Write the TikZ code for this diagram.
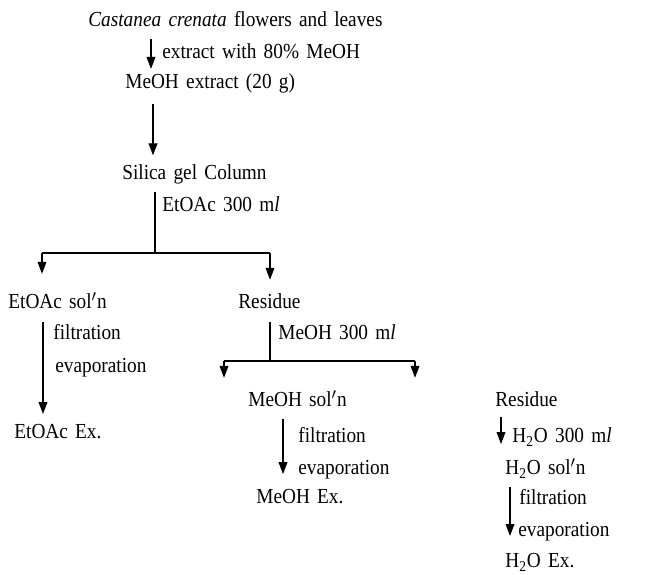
\documentclass[tikz,border=0pt]{standalone}
\usepackage{fontspec}
\setmainfont[FakeStretch=0.9]{Liberation Serif}
\usetikzlibrary{arrows.meta}
\newcommand\flowfont{\fontsize{12.2pt}{14pt}\selectfont\spaceskip=0.34em plus 0.1em\relax}

\begin{document}
\begin{tikzpicture}[x=0.02cm,y=-0.02cm,
    txt/.style={anchor=west,inner sep=0pt,text height=8pt,text depth=2.5pt,
      yshift=-1.2pt,font=\flowfont},
    line/.style={line width=0.6pt},
    arr/.style={line width=0.6pt,-{Triangle[length=6.8pt,width=5pt]}}]
  \useasboundingbox (0,0) rectangle (651,574);
  \begin{scope}[every node/.style={txt}]
  % steps
  \node (castanea) at (88,20) {\textit{Castanea crenata} flowers and leaves};
  \node (meohext) at (125,82) {MeOH extract (20 g)};
  \node (silica) at (122,173) {Silica gel Column};
  \node (etoacsol) at (8,302) {EtOAc sol$'$n};
  \node (residue) at (238,302) {Residue};
  \node (etoacex) at (14,432) {EtOAc Ex.};
  \node (meohsol) at (248,400) {MeOH sol$'$n};
  \node (residueb) at (495,400) {Residue};
  \node (meohex) at (256,497) {MeOH Ex.};
  \node (hosol) at (505,468) {H\textsubscript{2}O sol$'$n};
  \node (hoex) at (505,561) {H\textsubscript{2}O Ex.};
  % conditions
  \node (c1) at (162,52) {extract with 80\% MeOH};
  \node (c2) at (162,205) {EtOAc 300 m\textit{l}};
  \node (c3) at (53,333) {filtration};
  \node (c4) at (55,366) {evaporation};
  \node (c5) at (278,333) {MeOH 300 m\textit{l}};
  \node (c6) at (298,436) {filtration};
  \node (c7) at (298,468) {evaporation};
  \node (c8) at (512,436) {H\textsubscript{2}O 300 m\textit{l}};
  \node (c9) at (519,498) {filtration};
  \node (c10) at (518,530) {evaporation};
  \end{scope}
  % branch points
  \coordinate (j1) at (155,253);
  \coordinate (b1) at (42,253);
  \coordinate (b2) at (270,253);
  \coordinate (j2) at (270,361);
  \coordinate (b3) at (224,361);
  \coordinate (b4) at (415,361);
  % arrows
  \draw[arr,shorten <=4.4pt,shorten >=3.2pt] (castanea.south -| 151,0) -- (meohext.north -| 151,0);
  \draw[arr,shorten <=6pt,shorten >=5.8pt] (meohext.south -| 153,0) -- (silica.north -| 153,0);
  \draw[line,shorten <=4.4pt] (silica.south -| j1) -- (j1);
  \draw[line] (b1) -- (b2);
  \draw[arr,shorten >=11.8pt] (b1) -- (etoacsol.north -| b1);
  \draw[arr,shorten >=8.4pt] (b2) -- (residue.north -| b2);
  \draw[arr,shorten <=5pt,shorten >=6pt] (etoacsol.south -| 43,0) -- (etoacex.north -| 43,0);
  \draw[line,shorten <=5pt] (residue.south -| j2) -- (j2);
  \draw[line] (b3) -- (b4);
  \draw[arr,shorten >=8.4pt] (b3) -- (meohsol.north -| b3);
  \draw[arr,shorten >=8.4pt] (b4) -- (residueb.north -| b4);
  \draw[arr,shorten <=4.4pt,shorten >=8.8pt] (meohsol.south -| 283,0) -- (meohex.north -| 283,0);
  \draw[arr,shorten <=3.2pt,shorten >=9.4pt] (residueb.south -| 501,0) -- (hosol.north -| 501,0);
  \draw[arr,shorten <=3.9pt,shorten >=10pt] (hosol.south -| 510,0) -- (hoex.north -| 510,0);
\end{tikzpicture}
\end{document}
